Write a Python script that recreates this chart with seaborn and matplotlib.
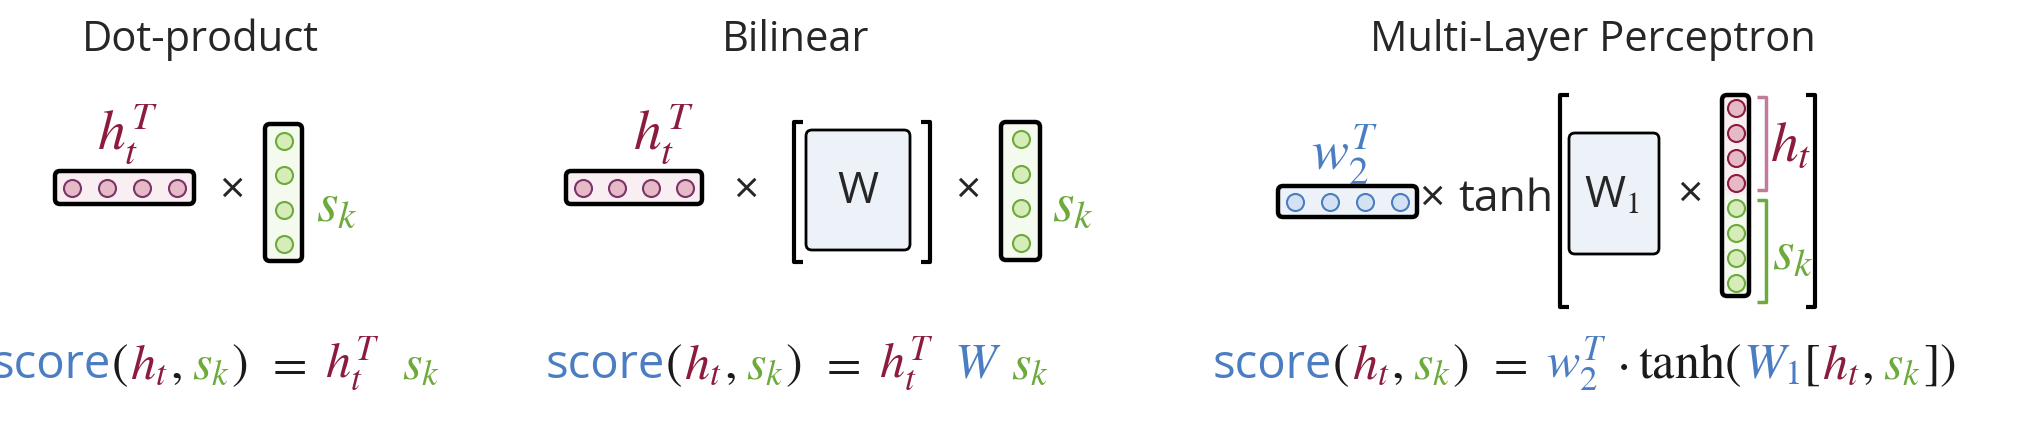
import matplotlib
matplotlib.use("Agg")
import matplotlib.pyplot as plt
import seaborn as sns
import pandas as pd
from matplotlib.patches import FancyBboxPatch

sns.set_theme(style="white")
plt.rcParams['font.family'] = ['Open Sans', 'DejaVu Sans']
plt.rcParams['mathtext.fontset'] = 'stix'

MAROON = "#8c1c3e"
GREEN = "#6caa3c"
BLUE = "#4a7dc2"

titles = ["Dot-product", "Bilinear", "Multi-Layer Perceptron"]
title_x = [200, 796, 1593]

# vector element counts
row_cells = 4
col_cells = 4
concat_cells = [4, 4]  # h_t part, s_k part

# (text, colour, is_math, gap after in px)
head = [("score", BLUE, False, 0), ("(", "k", True, 2), ("h_t", MAROON, True, 2), (",", "k", True, 10),
        ("s_k", GREEN, True, 2), (")", "k", True, 18), ("=", "k", True, 18)]
formula1 = head + [("h_t^T", MAROON, True, 22), ("s_k", GREEN, True, 0)]
formula2 = head + [("h_t^T", MAROON, True, 20), ("W", BLUE, True, 10), ("s_k", GREEN, True, 0)]
formula3 = head + [("w_2^T", BLUE, True, 10), ("\\cdot", "k", True, 10), ("\\mathrm{tanh}(", "k", True, 2),
                   ("W_1", BLUE, True, 2), ("[", "k", True, 2), ("h_t", MAROON, True, 2), (",", "k", True, 10),
                   ("s_k", GREEN, True, 2), ("])", "k", True, 0)]
formula_x = [-8, 546, 1213]

fig = plt.figure(figsize=(20.26, 4.28), dpi=100)
ax = fig.add_axes([0, 0, 1, 1])
ax.set_xlim(0, 2026)
ax.set_ylim(428, 0)
ax.axis("off")
renderer = fig.canvas.get_renderer()


def box(x0, y0, x1, y1, fc, lw=3.2, ec="black", r=5):
    ax.add_patch(FancyBboxPatch((x0, y0), x1 - x0, y1 - y0,
                                boxstyle=f"round,pad=0,rounding_size={r}",
                                fc=fc, ec=ec, lw=lw, zorder=2))


def dots(xs, ys, fc, ec):
    df = pd.DataFrame({"x": xs, "y": ys})
    sns.scatterplot(data=df, x="x", y="y", ax=ax, s=150, color=fc,
                    edgecolor=ec, linewidth=1.5, zorder=3, legend=False)


def bracket(x, y0, y1, side, color="black", lw=3, w=9):
    d = w if side == "left" else -w
    ax.plot([x + d, x, x, x + d], [y0, y0, y1, y1], color=color, lw=lw,
            solid_capstyle="butt", zorder=2)


def formula(x, y, pieces, size=36):
    for txt, col, math, gap in pieces:
        s = f"${txt}$" if math else txt
        t = ax.text(x, y, s, color=col, fontsize=size if math else size - 2,
                    va="baseline", ha="left")
        x += t.get_window_extent(renderer).width + gap


def row_vec(x0, x1, y0, y1, fc, cfc, cec):
    box(x0, y0, x1, y1, fc)
    step = (x1 - x0) / row_cells
    xs = [x0 + step * (i + 0.5) for i in range(row_cells)]
    dots(xs, [(y0 + y1) / 2] * row_cells, cfc, cec)


def col_vec(x0, x1, y0, y1):
    box(x0, y0, x1, y1, "#f5faef")
    step = (y1 - y0) / col_cells
    ys = [y0 + step * (i + 0.5) for i in range(col_cells)]
    dots([(x0 + x1) / 2] * col_cells, ys, "#d6edb9", GREEN)


for t, x in zip(titles, title_x):
    ax.text(x, 40, t, fontsize=30, ha="center", va="center")

# panel 1
ax.text(127, 150, "$h_t^T$", color=MAROON, fontsize=40, ha="center", va="baseline")
row_vec(55, 194, 171, 204, "#f9eef2", "#e6b9c6", "#7a3468")
ax.text(232, 192, "×", fontsize=32, ha="center", va="center")
col_vec(265, 302, 124, 261)
ax.text(316, 220, "$s_k$", color=GREEN, fontsize=40, ha="left", va="baseline")
formula(formula_x[0], 378, formula1)

# panel 2
ax.text(663, 150, "$h_t^T$", color=MAROON, fontsize=40, ha="center", va="baseline")
row_vec(566, 702, 171, 204, "#f9eef2", "#e6b9c6", "#7a3468")
ax.text(746, 192, "×", fontsize=32, ha="center", va="center")
bracket(794, 122, 262, "left")
box(806, 130, 910, 250, "#edf2f9", lw=2, r=6)
ax.text(858, 192, "W", fontsize=32, ha="center", va="center")
bracket(930, 122, 262, "right")
ax.text(968, 192, "×", fontsize=32, ha="center", va="center")
col_vec(1001, 1040, 122, 260)
ax.text(1052, 220, "$s_k$", color=GREEN, fontsize=40, ha="left", va="baseline")
formula(formula_x[1], 378, formula2)

# panel 3
ax.text(1345, 170, "$w_2^T$", color=BLUE, fontsize=40, ha="center", va="baseline")
row_vec(1278, 1417, 186, 217, "#edf2f9", "#d3e1f3", BLUE)
ax.text(1432, 200, "×", fontsize=32, ha="center", va="center")
ax.text(1458, 200, "tanh", fontsize=32, ha="left", va="center")
bracket(1560, 95, 307, "left")
box(1569, 133, 1659, 254, "#edf2f9", lw=2, r=6)
ax.text(1612, 196, "W$_1$", fontsize=32, ha="center", va="center")
ax.text(1690, 196, "×", fontsize=32, ha="center", va="center")
# concatenated column
ax.add_patch(plt.Rectangle((1722, 95), 27, 100, fc="#f9eef2", ec="none", zorder=1))
ax.add_patch(plt.Rectangle((1722, 195), 27, 101, fc="#f5faef", ec="none", zorder=1))
box(1722, 95, 1749, 296, "none", lw=3.2)
ys = [95 + 200 / 8 * (i + 0.5) for i in range(sum(concat_cells))]
dots([1735.5] * concat_cells[0], ys[:concat_cells[0]], "#e6b9c6", MAROON)
dots([1735.5] * concat_cells[1], ys[concat_cells[0]:], "#d6edb9", GREEN)
bracket(1766, 97, 190, "right", color="#c27a9a", lw=2.5, w=9)
bracket(1766, 200, 302, "right", color=GREEN, lw=2.5, w=9)
ax.text(1770, 160, "$h_t$", color=MAROON, fontsize=40, ha="left", va="baseline")
ax.text(1772, 268, "$s_k$", color=GREEN, fontsize=40, ha="left", va="baseline")
bracket(1815, 95, 307, "right")
formula(formula_x[2], 378, formula3)

fig.savefig("out.png", dpi=100, facecolor="white")
